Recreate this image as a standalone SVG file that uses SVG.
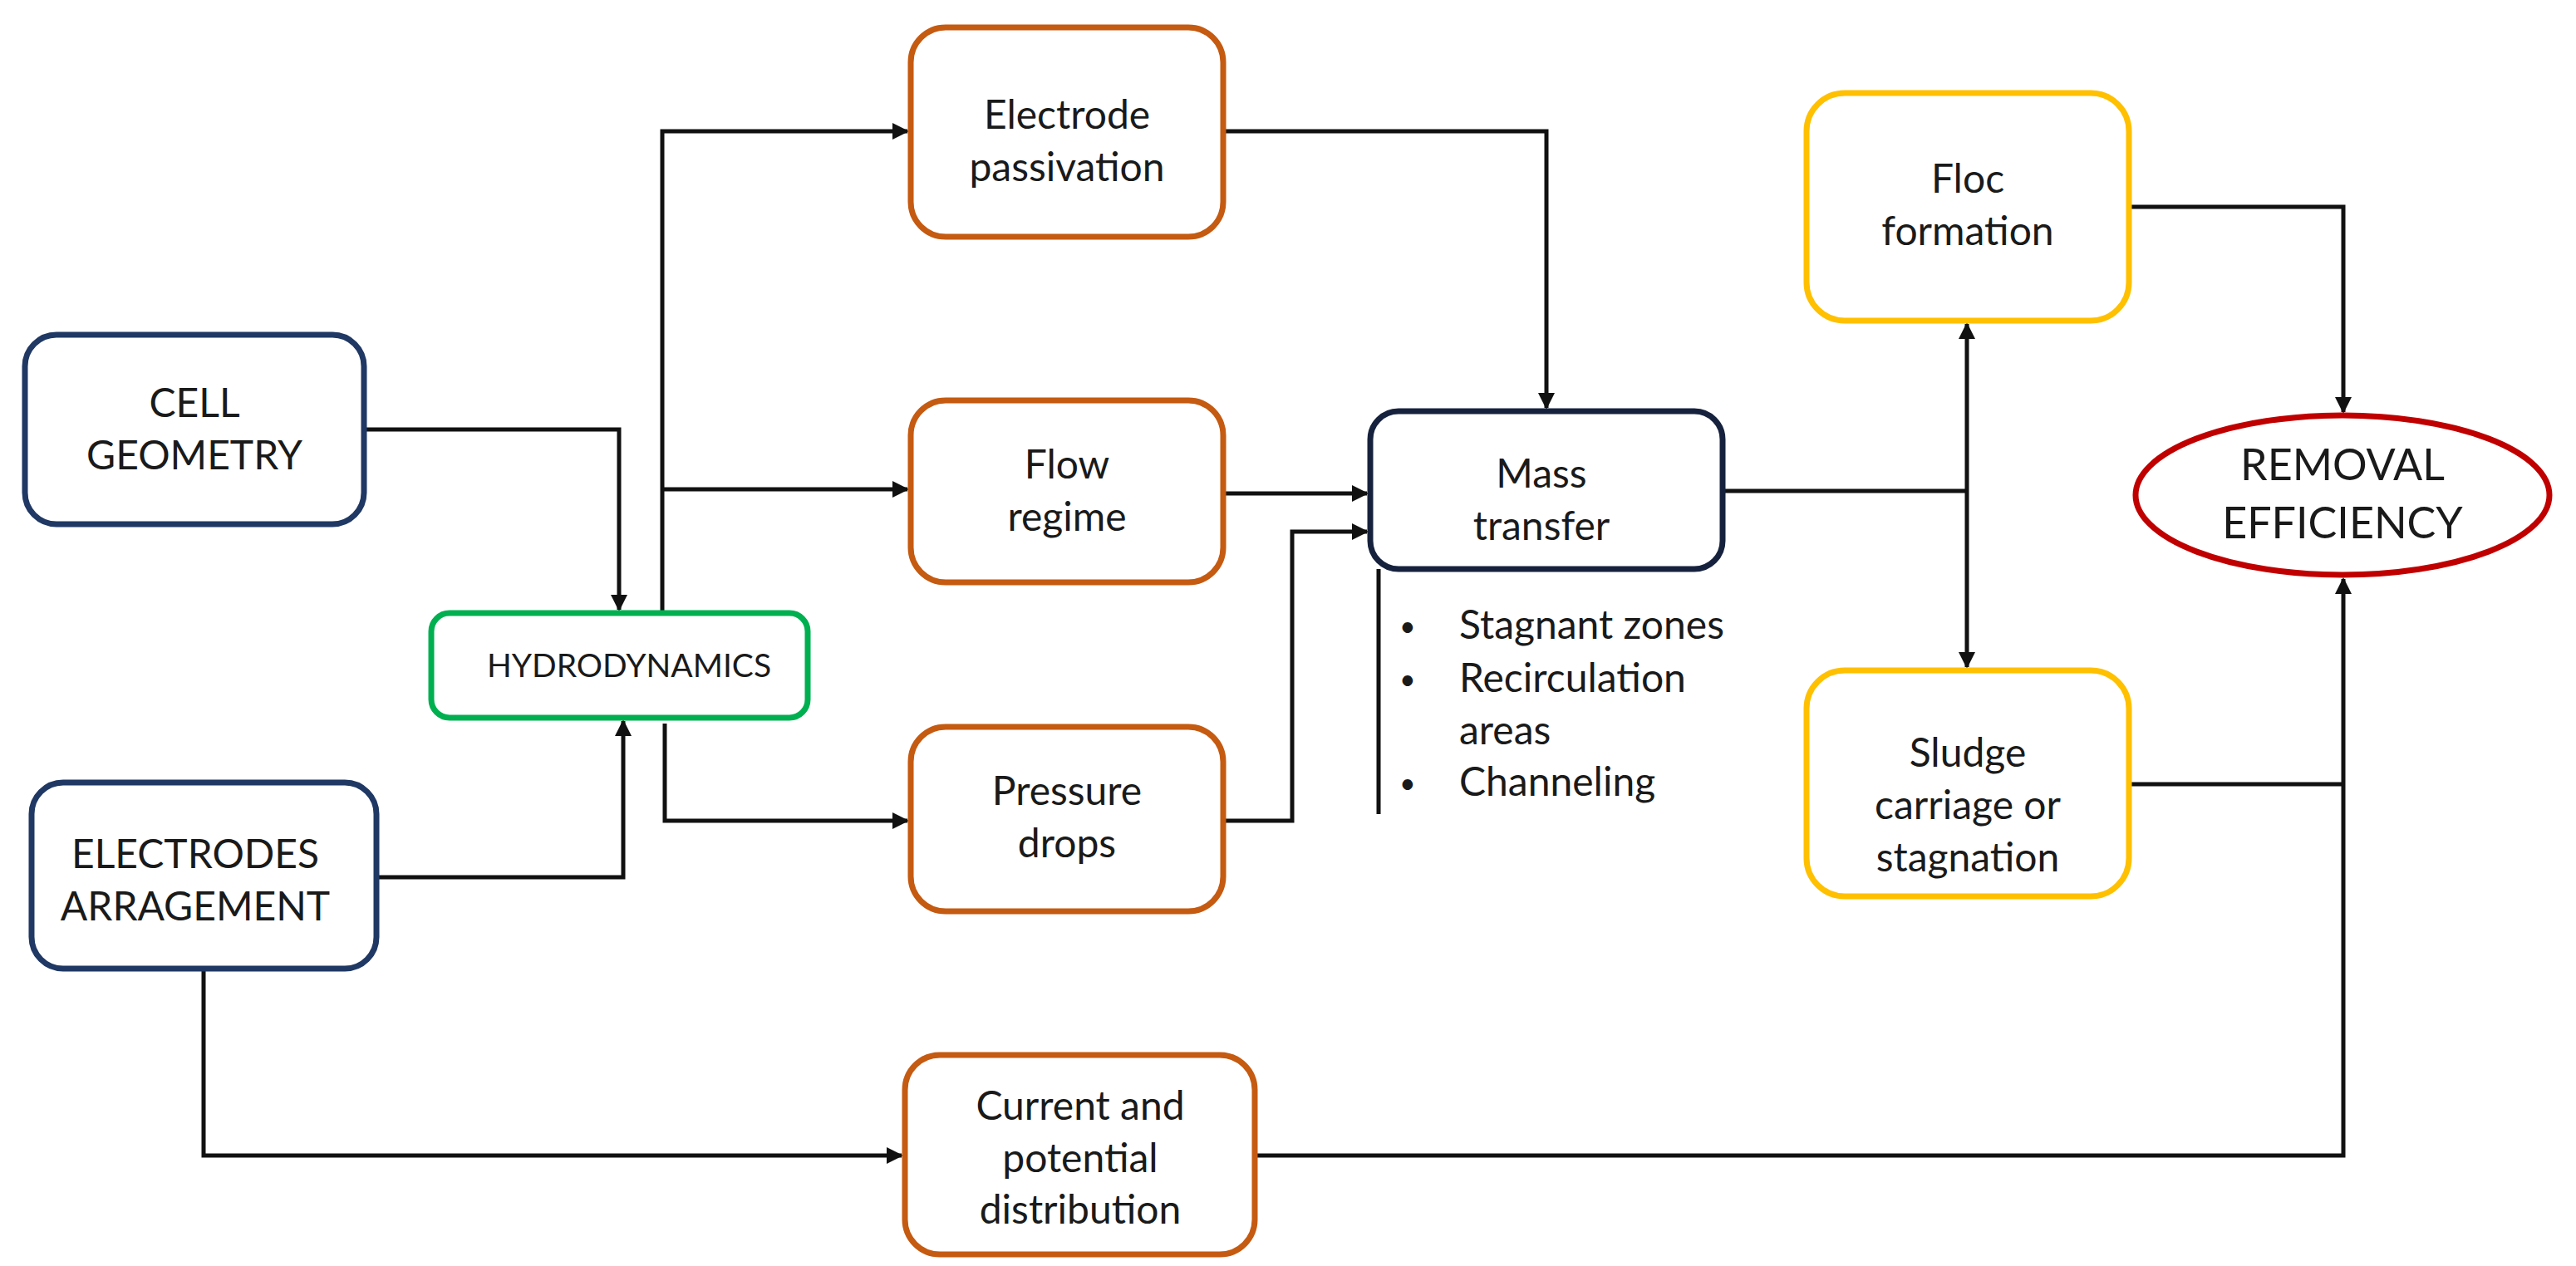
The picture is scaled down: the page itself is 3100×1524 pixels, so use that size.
<svg xmlns="http://www.w3.org/2000/svg" width="3100" height="1524" viewBox="0 0 3100 1524">
<style>
text{font-family:Lato,"Open Sans","Liberation Sans",sans-serif;font-size:48px;fill:#1a1a1a;text-anchor:middle}
.b{fill:#fff;stroke-width:7}
.blue{stroke:#1F3864}.or{stroke:#C55A11}.gr{stroke:#00B050}.ye{stroke:#FFC000}.nv{stroke:#16223d}
.c path{fill:none;stroke:#111;stroke-width:5}
.bl{text-anchor:start}
.dot{font-size:34px}
</style>
<defs>
<marker id="A" viewBox="0 0 10 10" refX="9" refY="5" markerWidth="20" markerHeight="20" orient="auto" markerUnits="userSpaceOnUse"><path d="M0,0L10,5L0,10z" fill="#111"/></marker>
</defs>
<rect width="3100" height="1524" fill="#fff"/>
<g class="c">
<path d="M438,517H745V734" marker-end="url(#A)"/>
<path d="M453,1056H750V868" marker-end="url(#A)"/>
<path d="M797,738V158H1092" marker-end="url(#A)"/>
<path d="M797,589H1092" marker-end="url(#A)"/>
<path d="M800,871V988H1092" marker-end="url(#A)"/>
<path d="M245,1166V1391H1085" marker-end="url(#A)"/>
<path d="M1472,158H1861V491" marker-end="url(#A)"/>
<path d="M1472,594H1645" marker-end="url(#A)"/>
<path d="M1472,988H1555V640H1645" marker-end="url(#A)"/>
<path d="M1659,685V980"/>
<path d="M2073,591H2367"/>
<path d="M2367,591V390" marker-end="url(#A)"/>
<path d="M2367,591V803" marker-end="url(#A)"/>
<path d="M2562,249H2820V496" marker-end="url(#A)"/>
<path d="M2562,944H2820"/>
<path d="M1510,1391H2820V697" marker-end="url(#A)"/>
</g>
<g id="cell"><rect class="b blue" x="30" y="403" width="408" height="228" rx="38"/><text x="234" y="502">CELL</text><text x="234" y="565">GEOMETRY</text></g>
<g id="electrodes"><rect class="b blue" x="38" y="942" width="415" height="224" rx="38"/><text x="235" y="1045">ELECTRODES</text><text x="235" y="1108">ARRAGEMENT</text></g>
<g id="hydro"><rect class="b gr" x="519" y="738" width="453" height="126" rx="22"/><text x="757" y="815" style="font-size:39px">HYDRODYNAMICS</text></g>
<g id="passivation"><rect class="b or" x="1096" y="33" width="376" height="252" rx="42"/><text x="1284" y="155">Electrode</text><text x="1284" y="218">passivation</text></g>
<g id="flow"><rect class="b or" x="1096" y="482" width="376" height="219" rx="42"/><text x="1284" y="576">Flow</text><text x="1284" y="639">regime</text></g>
<g id="pressure"><rect class="b or" x="1096" y="875" width="376" height="222" rx="42"/><text x="1284" y="969">Pressure</text><text x="1284" y="1032">drops</text></g>
<g id="current"><rect class="b or" x="1089" y="1270" width="421" height="240" rx="42"/><text x="1300" y="1348">Current and</text><text x="1300" y="1411">potential</text><text x="1300" y="1473">distribution</text></g>
<g id="mass"><rect class="b nv" x="1649" y="495" width="424" height="190" rx="34"/><text x="1855" y="587">Mass</text><text x="1855" y="650">transfer</text></g>
<g id="bullets">
<text class="bl dot" x="1684" y="766">•</text><text class="bl" x="1756" y="769">Stagnant zones</text>
<text class="bl dot" x="1684" y="830">•</text><text class="bl" x="1756" y="833">Recirculation</text>
<text class="bl" x="1756" y="896">areas</text>
<text class="bl dot" x="1684" y="955">•</text><text class="bl" x="1756" y="958">Channeling</text>
</g>
<g id="floc"><rect class="b ye" x="2174" y="112" width="388" height="274" rx="46"/><text x="2368" y="232">Floc</text><text x="2368" y="295">formation</text></g>
<g id="sludge"><rect class="b ye" x="2174" y="807" width="388" height="272" rx="46"/><text x="2368" y="923">Sludge</text><text x="2368" y="986">carriage or</text><text x="2368" y="1049">stagnation</text></g>
<g id="removal"><ellipse cx="2819" cy="596" rx="249" ry="96" fill="#fff" stroke="#C00000" stroke-width="7"/><text x="2819" y="578" style="font-size:52px">REMOVAL</text><text x="2819" y="648" style="font-size:52px">EFFICIENCY</text></g>
</svg>
